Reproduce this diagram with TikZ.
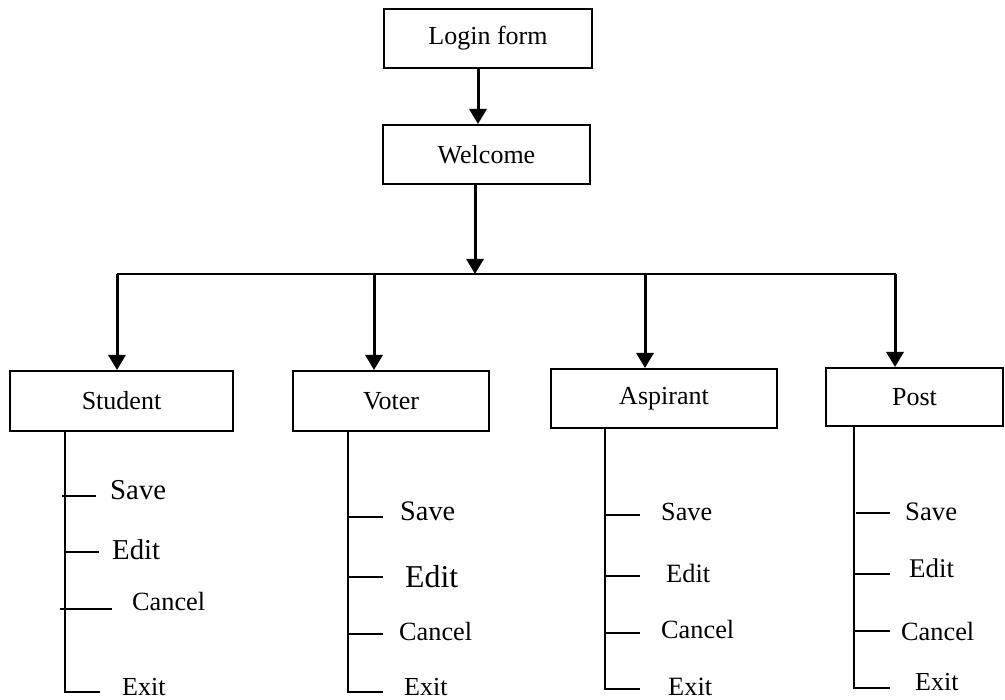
\documentclass[tikz,border=0pt]{standalone}
\usepackage{fontspec}
\setmainfont{Liberation Serif}
\usetikzlibrary{arrows.meta}
\tikzset{
  box/.style={draw, line width=2pt, inner sep=0pt, font=\fontsize{26}{30}\selectfont},
  arr/.style={line width=3pt, -{Triangle[width=17pt,length=15pt]}},
  bus/.style={line width=1.8pt},
  trunk/.style={line width=2pt},
  item/.style={anchor=base west, inner sep=0pt},
}
\newcommand{\fs}[1]{\fontsize{#1}{#1}\selectfont}
\begin{document}
\begin{tikzpicture}[x=1pt, y=-1pt]
\useasboundingbox (0,0) rectangle (1005,700);

% top of the chart
\node[box, minimum width=208pt, minimum height=59pt] (login) at (488,38.5) {Login form};
\node[box, minimum width=207pt, minimum height=59pt] (welcome) at (486.5,154.5) {Welcome};

% module boxes
\node[box, minimum width=223pt, minimum height=60pt] (student) at (121.5,401) {Student};
\node[box, minimum width=196pt, minimum height=60pt] (voter) at (391,401) {Voter};
\node[box, minimum width=226pt, minimum height=59pt] (aspirant) at (664,398.5) {Aspirant};
\node[box, minimum width=177pt, minimum height=58pt] (post) at (914.5,397) {Post};

% connector points
\coordinate (lw) at (478,0);
\coordinate (wb) at (475,274);
\coordinate (busL) at (117,274);
\coordinate (busR) at (896,274);
\coordinate (dS) at (117,274);
\coordinate (dV) at (374,274);
\coordinate (dA) at (645,274);
\coordinate (dP) at (895,274);

\draw[arr] (login.south -| lw) -- (welcome.north -| lw);
\draw[arr] (welcome.south -| wb) -- (wb);
\draw[bus] (busL) -- (busR);
\draw[arr] (dS) -- (dS |- student.north);
\draw[arr] (dV) -- (dV |- voter.north);
\draw[arr] (dA) -- (dA |- aspirant.north);
\draw[arr] (dP) -- (dP |- post.north);

% Student menu
\coordinate (sT) at (65,692);
\draw[trunk] (student.south -| sT) -- (sT) -- (100,692);
\draw[trunk] (62,496) -- (96,496);
\draw[trunk] (65,552) -- (99,552);
\draw[trunk] (60,609) -- (112,609);
\node[item, font=\fs{28.8}] (sSave) at (110,500) {Save};
\node[item, font=\fs{28.8}] (sEdit) at (112,560) {Edit};
\node[item, font=\fs{26.3}] (sCancel) at (132,610) {Cancel};
\node[item, font=\fs{26}] (sExit) at (122,695) {Exit};

% Voter menu
\coordinate (vT) at (348,692);
\draw[trunk] (voter.south -| vT) -- (vT) -- (383,692);
\draw[trunk] (348,517) -- (383,517);
\draw[trunk] (348,577) -- (383,577);
\draw[trunk] (348,634) -- (383,634);
\node[item, font=\fs{28.3}] (vSave) at (400,521) {Save};
\node[item, font=\fs{31.8}] (vEdit) at (405,587) {Edit};
\node[item, font=\fs{26.3}] (vCancel) at (399,641) {Cancel};
\node[item, font=\fs{26}] (vExit) at (404,695) {Exit};

% Aspirant menu
\coordinate (aT) at (605,689);
\draw[trunk] (aspirant.south -| aT) -- (aT) -- (640,689);
\draw[trunk] (605,515) -- (640,515);
\draw[trunk] (605,576) -- (640,576);
\draw[trunk] (605,633) -- (640,633);
\node[item, font=\fs{26.2}] (aSave) at (661,521) {Save};
\node[item, font=\fs{26.4}] (aEdit) at (666,583) {Edit};
\node[item, font=\fs{26.3}] (aCancel) at (661,638) {Cancel};
\node[item, font=\fs{26.4}] (aExit) at (668,695) {Exit};

% Post menu
\coordinate (pT) at (854,688);
\draw[trunk] (post.south -| pT) -- (pT) -- (890,688);
\draw[trunk] (856,513) -- (890,513);
\draw[trunk] (854,574) -- (890,574);
\draw[trunk] (854,631) -- (890,631);
\node[item, font=\fs{26.7}] (pSave) at (905,521) {Save};
\node[item, font=\fs{27}] (pEdit) at (909,578) {Edit};
\node[item, font=\fs{26.3}] (pCancel) at (901,641) {Cancel};
\node[item, font=\fs{26}] (pExit) at (915,690) {Exit};
\end{tikzpicture}
\end{document}
